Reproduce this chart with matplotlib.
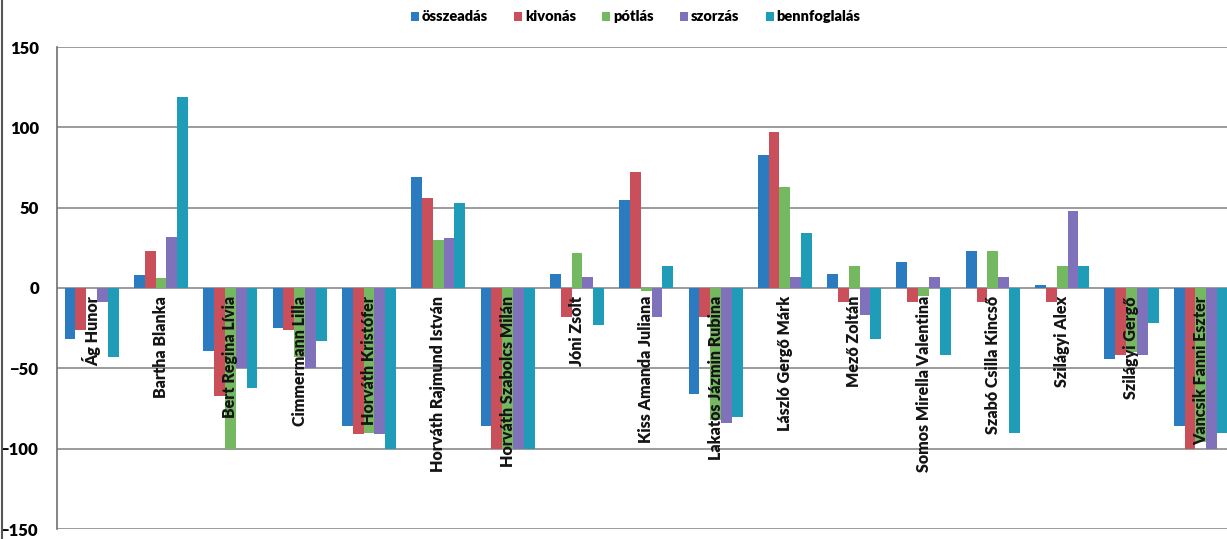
import numpy as np
import matplotlib.pyplot as plt

# Tanulók
nevek = ["Ág Hunor", "Bartha Blanka", "Bert Regina Lívia", "Cimmermann Lilla",
         "Horváth Kristófer", "Horváth Rajmund István", "Horváth Szabolcs Milán",
         "Jóni Zsolt", "Kiss Amanda Juliana", "Lakatos Jázmin Rubina",
         "László Gergő Márk", "Mező Zoltán", "Somos Mirella Valentina",
         "Szabó Csilla Kincső", "Szilágyi Alex", "Szilágyi Gergő",
         "Vancsik Fanni Eszter"]

# Változás (%) műveletenként
osszeadas = [-32, 8, -39, -25, -86, 69, -86, 9, 55, -66, 83, 9, 16, 23, 2, -44, -86]
kivonas = [-26, 23, -67, -26, -91, 56, -100, -18, 72, -18, 97, -9, -9, -9, -9, -42, -100]
potlas = [0, 6, -100, -43, -90, 30, -100, 22, -2, -82, 63, 14, -5, 23, 14, -40, -96]
szorzas = [-9, 32, -50, -50, -91, 31, -100, 7, -18, -84, 7, -17, 7, 7, 48, -42, -100]
bennfoglalas = [-43, 119, -62, -33, -100, 53, -100, -23, 14, -80, 34, -32, -42, -90, 14, -22, -90]

sorozatok = [("összeadás", osszeadas, "#2a7bbf"),
             ("kivonás", kivonas, "#c9505a"),
             ("pótlás", potlas, "#74b860"),
             ("szorzás", szorzas, "#7f72bb"),
             ("bennfoglalás", bennfoglalas, "#1f9cb8")]

plt.rcParams['font.family'] = ['Lato', 'DejaVu Sans']

fig = plt.figure(figsize=(12.27, 5.39), dpi=100)
ax = fig.add_axes([57 / 1227, 10 / 539, 1175 / 1227, 482 / 539])

x = np.arange(len(nevek))
w = 0.156
for i, (nev, ertek, szin) in enumerate(sorozatok):
    ax.bar(x + (i - 2) * w, ertek, w, color=szin, label=nev, zorder=2)

# nevek a nulla vonal alatt, függőlegesen
for xi, nev in zip(x, nevek):
    ax.text(xi, -5, nev, rotation=90, ha='center', va='top',
            fontsize=11.5, fontweight='heavy', color='#151515', zorder=3)

ax.set_xlim(-0.5, 16.45)
ax.set_ylim(-150, 150)
ax.set_yticks([-150, -100, -50, 0, 50, 100, 150])
ax.set_xticks([])
ax.tick_params(axis='y', length=0, pad=13, labelsize=12)
for lab in ax.get_yticklabels():
    lab.set_fontweight('heavy')
ax.grid(axis='y', color='#8a8a8a', linewidth=1.2, zorder=0)
for s in ['top', 'right', 'bottom']:
    ax.spines[s].set_visible(False)
ax.spines['left'].set_color('#707070')
ax.spines['left'].set_linewidth(1.2)

leg = fig.legend(loc='upper center', bbox_to_anchor=(0.518, 1.005), ncol=5,
                 frameon=False, fontsize=10.5, handlelength=0.55, handleheight=0.55,
                 handletextpad=0.2, columnspacing=1.8)
for t in leg.get_texts():
    t.set_fontweight('heavy')

# bal oldali keret
fig.add_artist(plt.Line2D([1.5 / 1227, 1.5 / 1227], [0, 1], color='#555555', linewidth=1.5))

fig.savefig("out.png", dpi=100)
